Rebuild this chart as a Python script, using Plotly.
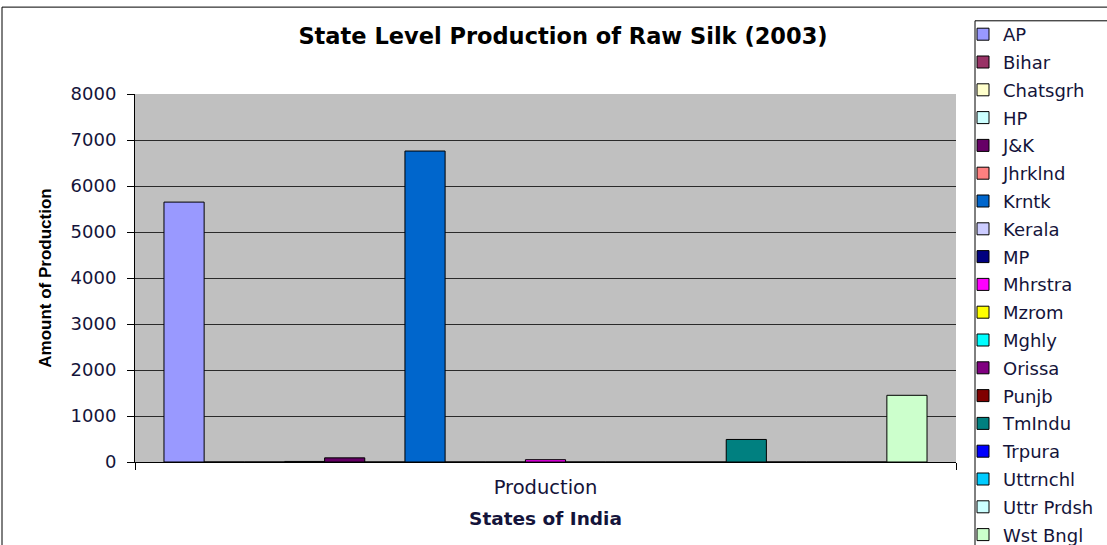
import plotly.graph_objects as go

# Raw silk production by state, 2003
states = ["AP", "Bihar", "Chatsgrh", "HP", "J&K", "Jhrklnd", "Krntk", "Kerala", "MP",
          "Mhrstra", "Mzrom", "Mghly", "Orissa", "Punjb", "TmIndu", "Trpura",
          "Uttrnchl", "Uttr Prdsh", "Wst Bngl"]
production = [5650, 0, 0, 12, 90, 0, 6760, 0, 0,
              50, 0, 0, 0, 0, 490, 0,
              0, 0, 1450]
colors = ["#9999FF", "#993366", "#FFFFCC", "#CCFFFF", "#660066", "#FF8080", "#0066CC",
          "#CCCCFF", "#000080", "#FF00FF", "#FFFF00", "#00FFFF", "#800080", "#800000",
          "#008080", "#0000FF", "#00CCFF", "#CCFFFF", "#CCFFCC"]
category = ["Production"]
y_ticks = [0, 1000, 2000, 3000, 4000, 5000, 6000, 7000, 8000]

W, H = 1107, 545
L, R, T, B = 135, 956, 94, 462.5


def px_x(px):
    return (px - L) / (R - L)


def px_y(py):
    return (B - py) / (B - T)


TEXT = "#14143a"
FONT = "DejaVu Sans, Arial, sans-serif"

fig = go.Figure()
for name, val, col in zip(states, production, colors):
    fig.add_trace(go.Bar(
        name=name, x=category, y=[val], legendgroup=name,
        marker=dict(color=col, line=dict(color="#000000", width=1)),
    ))

fig.update_layout(
    width=W, height=H,
    margin=dict(l=L, r=W - R, t=T, b=H - B, autoexpand=False),
    paper_bgcolor="white", plot_bgcolor="#C0C0C0",
    barmode="group", bargap=0.0706, bargroupgap=0,
    font=dict(family=FONT, size=18, color=TEXT),
    title=dict(text="<b>State Level Production of Raw Silk (2003)</b>",
               xref="container", x=563 / W, xanchor="center",
               yref="container", y=1 - 36.5 / H, yanchor="middle",
               font=dict(family=FONT, size=22.5, color="#000000")),
    xaxis=dict(
        type="category", showgrid=False, showline=True, linecolor="#000000", linewidth=1,
        ticks="outside", tickson="boundaries", ticklen=7, tickcolor="#000000",
        ticklabelstandoff=8,
        tickfont=dict(size=19.5, color=TEXT),
        title=dict(text="<b>States of India</b>", standoff=13,
                   font=dict(family=FONT, size=18.5, color=TEXT)),
    ),
    yaxis=dict(
        range=[0, 8000], tickvals=y_ticks, showgrid=True, gridcolor="#2a2a2a", gridwidth=1,
        showline=True, linecolor="#000000", linewidth=1,
        ticks="outside", ticklen=7, tickcolor="#000000",
        ticklabelstandoff=7,
        tickfont=dict(size=18, color=TEXT), zeroline=False,
        title=dict(text="<b>Amount of Production</b>", standoff=14,
                   font=dict(family="Liberation Sans, Arial, sans-serif",
                             size=17, color="#000000")),
    ),
    legend=dict(
        xref="container", x=963 / W, xanchor="left",
        yref="container", y=1 - 16 / H, yanchor="top",
        maxheight=1,
        bgcolor="rgba(0,0,0,0)", borderwidth=0,
        font=dict(family=FONT, size=18, color=TEXT),
        tracegroupgap=1.4, traceorder="grouped",
    ),
    shapes=[
        # outer chart frame
        dict(type="rect", xref="paper", yref="paper",
             x0=px_x(2), x1=px_x(1115), y0=px_y(7), y1=px_y(560),
             line=dict(color="#000000", width=1), fillcolor="rgba(0,0,0,0)", layer="below"),
        # legend frame
        dict(type="rect", xref="paper", yref="paper",
             x0=px_x(975), x1=px_x(1115), y0=px_y(20.7), y1=px_y(560),
             line=dict(color="#000000", width=1), fillcolor="white", layer="below"),
    ],
)

fig.write_html("out.html")
